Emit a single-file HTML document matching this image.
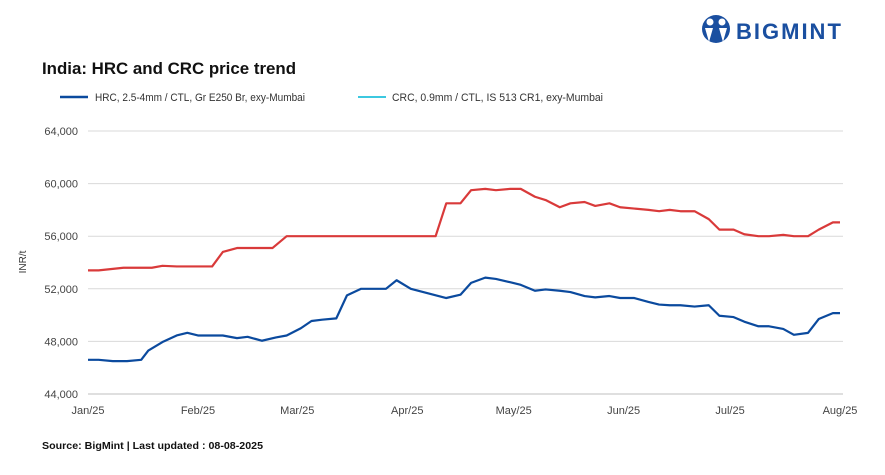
<!DOCTYPE html>
<html><head><meta charset="utf-8"><style>
body{margin:0;background:#fff;font-family:"Liberation Sans",Arial,sans-serif}
svg text{font-family:"Liberation Sans",Arial,sans-serif}
</style></head><body>
<svg width="885" height="470" viewBox="0 0 885 470">
<g>
<circle cx="716" cy="29" r="14" fill="#1a4fa0"/>
<circle cx="710" cy="22" r="3.5" fill="#fff"/><circle cx="722" cy="22" r="3.5" fill="#fff"/>
<path d="M705 28 L709 42 L713 28 Z M719 28 L723 42 L727 28 Z" fill="#fff"/>
<text x="736" y="39" font-size="22" font-weight="bold" fill="#1a4fa0" letter-spacing="2">BIGMINT</text>
</g>
<text x="42" y="74" font-size="17" font-weight="bold" fill="#111" textLength="254" lengthAdjust="spacingAndGlyphs">India: HRC and CRC price trend</text>
<g>
<line x1="60" y1="97" x2="88" y2="97" stroke="#0b4a9e" stroke-width="2.5"/>
<text x="95" y="101" font-size="11" fill="#333" textLength="210" lengthAdjust="spacingAndGlyphs">HRC, 2.5-4mm / CTL, Gr E250 Br, exy-Mumbai</text>
<line x1="358" y1="97" x2="386" y2="97" stroke="#3cc8e0" stroke-width="2"/>
<text x="392" y="101" font-size="11" fill="#333" textLength="211" lengthAdjust="spacingAndGlyphs">CRC, 0.9mm / CTL, IS 513 CR1, exy-Mumbai</text>
</g>
<text transform="translate(26,262) rotate(-90)" text-anchor="middle" font-size="10" fill="#333">INR/t</text>
<g id="grid"></g><g id="axes"></g><g id="series"></g>
<text x="42" y="449" font-size="10.5" font-weight="bold" fill="#111" textLength="221" lengthAdjust="spacingAndGlyphs">Source: BigMint | Last updated : 08-08-2025</text>
</svg>
<script>
const yTicks=[44000,48000,52000,56000,60000,64000];
const yTickLabels=["44,000","48,000","52,000","56,000","60,000","64,000"];
const monthDays=[0,31,59,90,120,151,181,212];
const monthLabels=["Jan/25","Feb/25","Mar/25","Apr/25","May/25","Jun/25","Jul/25","Aug/25"];
const crcDays=[0,3,10,18,21,25,35,38,42,52,56,98,101,105,108,112,115,119,122,126,129,133,136,140,143,147,150,154,158,161,164,167,171,175,178,182,185,189,192,196,199,203,206,210,212];
const crcValues=[53400,53400,53600,53600,53750,53700,53700,54800,55100,55100,56000,56000,58500,58500,59500,59600,59500,59600,59600,59000,58750,58200,58500,58600,58300,58500,58200,58100,58000,57900,58000,57900,57900,57300,56500,56500,56150,56000,56000,56100,56000,56000,56500,57050,57050];
const hrcDays=[0,3,7,11,15,17,21,25,28,31,38,42,45,49,53,56,60,63,66,70,73,77,84,87,91,96,101,105,108,112,115,119,122,126,129,133,136,140,143,147,150,154,158,161,164,167,171,175,178,182,185,189,192,196,199,203,206,210,212];
const hrcValues=[46600,46600,46500,46500,46600,47300,47950,48450,48650,48450,48450,48250,48350,48050,48300,48450,49000,49550,49650,49750,51500,52000,52000,52650,52000,51650,51300,51550,52450,52850,52750,52500,52300,51850,51950,51850,51750,51450,51350,51450,51300,51300,51000,50800,50750,50750,50650,50750,49950,49850,49500,49150,49150,48950,48500,48650,49700,50150,50150];
const NS="http://www.w3.org/2000/svg";
const X0=88,X1=840,Y0=394,Y1=131;
const xs=d=>X0+(d-0)/212*(X1-X0);
const ys=v=>Y0-(v-44000)/20000*(Y0-Y1);
function mk(t,a,p){const e=document.createElementNS(NS,t);for(const k in a)e.setAttribute(k,a[k]);p.appendChild(e);return e;}
const grid=document.getElementById('grid'),axes=document.getElementById('axes'),ser=document.getElementById('series');
yTicks.forEach((v,i)=>{
 const l=mk('line',{x1:X0,x2:843,y1:ys(v),y2:ys(v),stroke:i==0?'#bfbfbf':'#d9d9d9','stroke-width':1},grid);
 
 
 const t=mk('text',{x:78,y:ys(v)+4,'text-anchor':'end','font-size':11,fill:'#444'},axes);
 t.textContent=yTickLabels[i];
 
 
});
monthDays.forEach((d,i)=>{
 const t=mk('text',{x:xs(d),y:414,'text-anchor':'middle','font-size':11,fill:'#444'},axes);
 t.textContent=monthLabels[i];
 
 
});
function line(days,vals,color,name){
 const p=mk('polyline',{points:days.map((d,i)=>xs(d)+','+ys(vals[i])).join(' '),fill:'none',stroke:color,'stroke-width':2.2,'stroke-linejoin':'round'},ser);
 
 
}
line(crcDays,crcValues,'#d93a3a','crc-line');
line(hrcDays,hrcValues,'#0b4a9e','hrc-line');
</script>
</body></html>
